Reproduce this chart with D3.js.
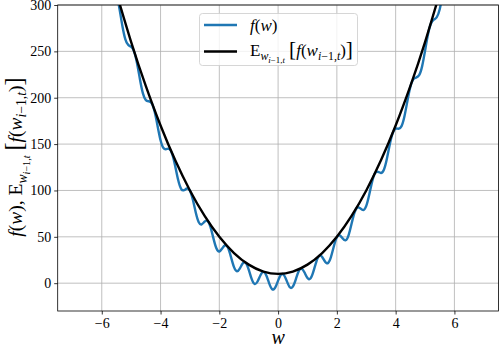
<!DOCTYPE html>
<html>
<head>
<meta charset="utf-8">
<script src="https://cdn.jsdelivr.net/npm/d3@7"></script>
<style>
  body { margin: 0; background: #fff; }
  svg text { font-family: "Liberation Serif", "DejaVu Serif", serif; fill: #000; }
</style>
</head>
<body>
<div id="chart"></div>
<script>
// sample points of w (blue curve)
const wGrid = [
  -5.6, -5.5, -5.4, -5.3, -5.2, -5.1, -5.0, -4.9, -4.8, -4.7, -4.6, -4.5, -4.4, -4.3, -4.2, -4.1,
  -4.0, -3.9, -3.8, -3.7, -3.6, -3.5, -3.4, -3.3, -3.2, -3.1, -3.0, -2.9, -2.8, -2.7, -2.6, -2.5,
  -2.4, -2.3, -2.2, -2.1, -2.0, -1.9, -1.8, -1.7, -1.6, -1.5, -1.4, -1.3, -1.2, -1.1, -1.0, -0.9,
  -0.8, -0.7, -0.6, -0.5, -0.4, -0.3, -0.2, -0.1, 0.0, 0.1, 0.2, 0.3, 0.4, 0.5, 0.6, 0.7,
  0.8, 0.9, 1.0, 1.1, 1.2, 1.3, 1.4, 1.5, 1.6, 1.7, 1.8, 1.9, 2.0, 2.1, 2.2, 2.3,
  2.4, 2.5, 2.6, 2.7, 2.8, 2.9, 3.0, 3.1, 3.2, 3.3, 3.4, 3.5, 3.6, 3.7, 3.8, 3.9,
  4.0, 4.1, 4.2, 4.3, 4.4, 4.5, 4.6, 4.7, 4.8, 4.9, 5.0, 5.1, 5.2, 5.3, 5.4, 5.5, 5.6
];

// f(w)
const fValues = [
  320.5, 312.2, 296.4, 277.6, 263.2, 256.9, 254.9, 249.8, 237.2, 219.7, 204.7, 197.4, 196.2, 194.0, 184.8, 169.3,
  154.1, 145.7, 144.6, 144.7, 139.0, 126.1, 111.2, 101.8, 100.3, 102.1, 99.8, 89.9, 76.0, 65.8, 63.5, 66.3,
  67.1, 60.5, 48.3, 37.6, 34.2, 37.6, 40.9, 37.9, 27.9, 17.3, 12.8, 16.0, 21.4, 21.8, 14.7, 4.6,
  -0.8, 1.8, 8.6, 12.2, 8.3, -0.4, -6.5, -4.9, 2.7, 9.2, 8.7, 2.0, -4.4, -3.8, 3.9, 12.8,
  15.8, 11.5, 5.5, 5.0, 12.4, 23.1, 29.4, 28.2, 23.1, 21.8, 28.4, 40.1, 49.5, 51.6, 48.2, 46.3,
  51.9, 64.1, 76.2, 81.8, 80.6, 78.8, 83.3, 95.3, 109.5, 118.6, 120.1, 118.9, 122.4, 133.9, 149.6, 161.9,
  166.6, 166.6, 169.4, 180.0, 196.5, 211.7, 219.8, 221.8, 224.3, 233.8, 250.5, 268.1, 279.7, 284.2, 287.0, 295.5, 311.8
];

// expected value curve (black)
const wMean = [-5.6, -5, -4.5, -4, -3.5, -3, -2.5, -2, -1.5, -1, -0.5, 0, 0.5, 1, 1.5, 2, 2.5, 3, 3.5, 4, 4.5, 5, 5.6];
const eValues = [323.6, 260, 212.5, 170, 132.5, 100, 72.5, 50, 32.5, 20, 12.5, 10, 12.5, 20, 32.5, 50, 72.5, 100, 132.5, 170, 212.5, 260, 323.6];

const xTicks = [-6, -4, -2, 0, 2, 4, 6];
const yTicks = [0, 50, 100, 150, 200, 250, 300];

const width = 500, height = 350;
const margin = { top: 5, right: 1.5, bottom: 39, left: 57.7 };
const serif = "'Liberation Serif', 'DejaVu Serif', serif";

const svg = d3.select("#chart").append("svg")
  .attr("width", width)
  .attr("height", height)
  .attr("font-family", serif);

const x = d3.scaleLinear().domain([-7.5, 7.5]).range([margin.left, width - margin.right]);
const y = d3.scaleLinear().domain([-30, 300]).range([height - margin.bottom, margin.top]);

const fmt = d => d < 0 ? "\u2212" + Math.abs(d) : String(d);

// grid
svg.append("g").selectAll("line").data(xTicks).join("line")
  .attr("x1", d => x(d)).attr("x2", d => x(d))
  .attr("y1", y.range()[0]).attr("y2", y.range()[1])
  .attr("stroke", "#b0b0b0").attr("stroke-width", 0.8);
svg.append("g").selectAll("line").data(yTicks).join("line")
  .attr("y1", d => y(d)).attr("y2", d => y(d))
  .attr("x1", x.range()[0]).attr("x2", x.range()[1])
  .attr("stroke", "#b0b0b0").attr("stroke-width", 0.8);

// clip
svg.append("clipPath").attr("id", "plot-clip")
  .append("rect")
  .attr("x", x.range()[0]).attr("y", y.range()[1])
  .attr("width", x.range()[1] - x.range()[0])
  .attr("height", y.range()[0] - y.range()[1]);

const plot = svg.append("g").attr("clip-path", "url(#plot-clip)");

const line = d3.line()
  .x(d => x(d[0]))
  .y(d => y(d[1]))
  .curve(d3.curveNatural);

plot.append("path")
  .datum(wGrid.map((w, i) => [w, fValues[i]]))
  .attr("d", line)
  .attr("fill", "none")
  .attr("stroke", "#1f77b4")
  .attr("stroke-width", 2.4);

plot.append("path")
  .datum(wMean.map((w, i) => [w, eValues[i]]))
  .attr("d", line)
  .attr("fill", "none")
  .attr("stroke", "#000")
  .attr("stroke-width", 2.4);

// axes
const xAxis = svg.append("g")
  .attr("transform", `translate(0,${y.range()[0]})`)
  .call(d3.axisBottom(x).tickValues(xTicks).tickFormat(fmt).tickSize(3.5).tickPadding(4));
const yAxis = svg.append("g")
  .attr("transform", `translate(${x.range()[0]},0)`)
  .call(d3.axisLeft(y).tickValues(yTicks).tickFormat(fmt).tickSize(3.5).tickPadding(3));

[xAxis, yAxis].forEach(a => {
  a.attr("font-family", serif).attr("font-size", 14);
  a.select(".domain").remove();
  a.selectAll("line").attr("stroke", "#000").attr("stroke-width", 0.8);
});

// frame
svg.append("rect")
  .attr("x", x.range()[0]).attr("y", y.range()[1])
  .attr("width", x.range()[1] - x.range()[0])
  .attr("height", y.range()[0] - y.range()[1])
  .attr("fill", "none").attr("stroke", "#000").attr("stroke-width", 0.8);

// x label
svg.append("text")
  .attr("x", x(0))
  .attr("y", 344)
  .attr("text-anchor", "middle")
  .attr("font-size", 20)
  .attr("font-style", "italic")
  .text("w");

// helper to write E_{w_{i-1,t}}[f(w_{i-1,t})] with sub/superscripts
function mathLabel(t, size) {
  const s1 = size * 0.7, s2 = size * 0.52;
  const parts = [
    { txt: "E", fs: size, dy: 0 },
    { txt: "w", fs: s1, dy: size * 0.25, it: true },
    { txt: "i", fs: s2, dy: size * 0.14, it: true },
    { txt: "\u22121,", fs: s2, dy: 0 },
    { txt: "t", fs: s2, dy: 0, it: true },
    { txt: "\u2009[", fs: size * 1.25, dy: -size * 0.39 },
    { txt: "f", fs: size, dy: 0, it: true },
    { txt: "(", fs: size, dy: 0 },
    { txt: "w", fs: size, dy: 0, it: true },
    { txt: "i", fs: s1, dy: size * 0.22, it: true },
    { txt: "\u22121,", fs: s1, dy: 0 },
    { txt: "t", fs: s1, dy: 0, it: true },
    { txt: ")", fs: size, dy: -size * 0.22 },
    { txt: "]", fs: size * 1.25, dy: 0 }
  ];
  parts.forEach(p => {
    t.append("tspan")
      .attr("font-size", p.fs)
      .attr("dy", p.dy)
      .attr("font-style", p.it ? "italic" : "normal")
      .text(p.txt);
  });
}

// y label
const yl = svg.append("text")
  .attr("transform", "translate(22,157) rotate(-90)")
  .attr("text-anchor", "middle")
  .attr("font-size", 19.5);
yl.append("tspan").attr("font-style", "italic").text("f");
yl.append("tspan").text("(");
yl.append("tspan").attr("font-style", "italic").text("w");
yl.append("tspan").text("), ");
mathLabel(yl, 19.5);

// legend
const lg = svg.append("g");
lg.append("rect")
  .attr("x", 199.5).attr("y", 13.5)
  .attr("width", 158).attr("height", 52)
  .attr("rx", 3)
  .attr("fill", "#fff").attr("fill-opacity", 0.8)
  .attr("stroke", "#ccc").attr("stroke-width", 0.8);
lg.append("line")
  .attr("x1", 204).attr("x2", 237).attr("y1", 25).attr("y2", 25)
  .attr("stroke", "#1f77b4").attr("stroke-width", 2.4);
lg.append("line")
  .attr("x1", 204).attr("x2", 237).attr("y1", 51.5).attr("y2", 51.5)
  .attr("stroke", "#000").attr("stroke-width", 2.4);
const t1 = lg.append("text").attr("x", 250).attr("y", 30.5).attr("font-size", 17);
t1.append("tspan").attr("font-style", "italic").text("f");
t1.append("tspan").text("(");
t1.append("tspan").attr("font-style", "italic").text("w");
t1.append("tspan").text(")");
const t2 = lg.append("text").attr("x", 250).attr("y", 56).attr("font-size", 17);
mathLabel(t2, 17);
</script>
</body>
</html>
